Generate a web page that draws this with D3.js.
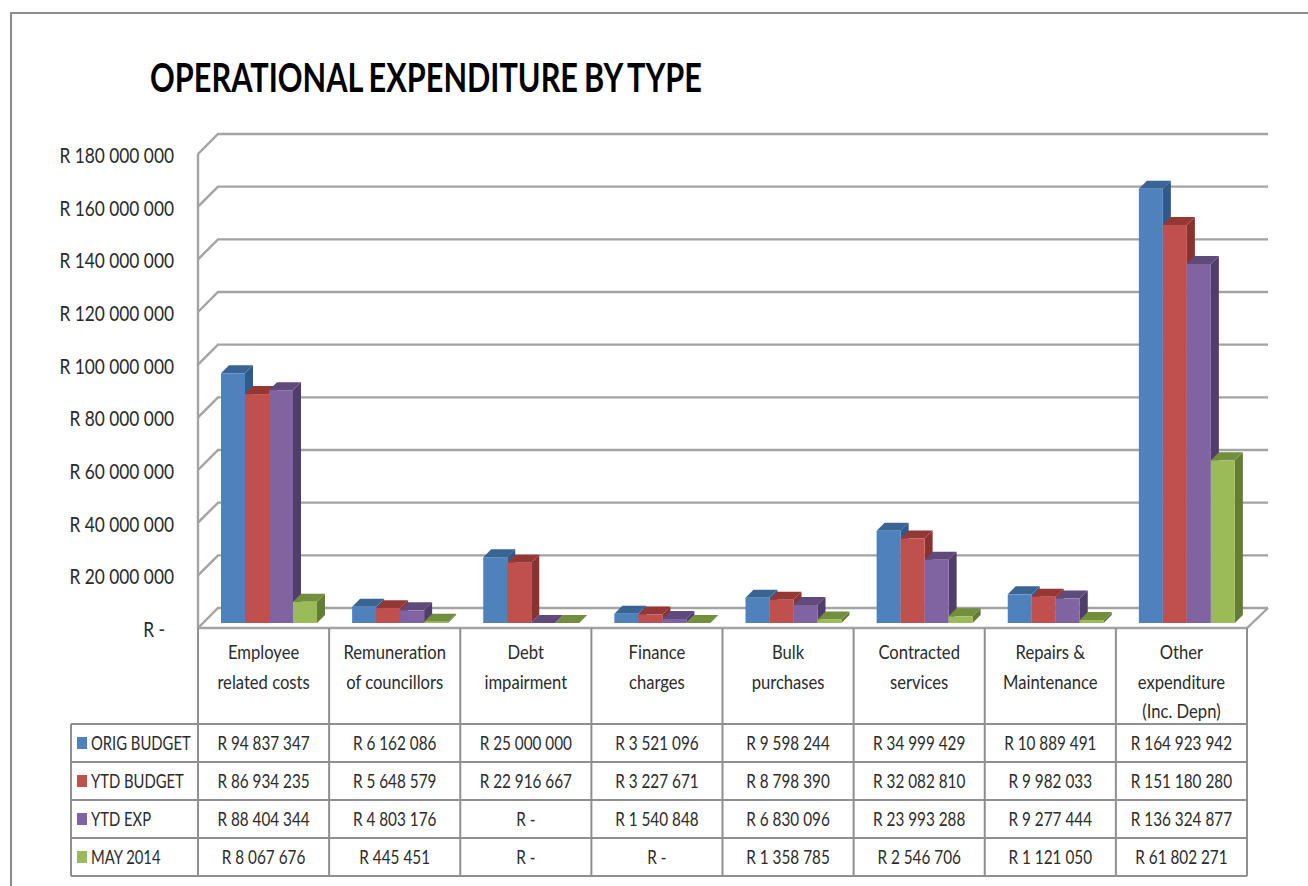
<!DOCTYPE html>
<html>
<head>
<meta charset="utf-8">
<script src="https://cdn.jsdelivr.net/npm/d3@7"></script>
<style>
    html, body {margin: 0; padding: 0; background: #fff;}
    svg {display: block;}
    text {font-family: Lato, "Liberation Sans", sans-serif; fill: #2b2b2b;}
    .chartTitle {font-weight: bold; fill: #000; word-spacing: -2px;}
    .line {stroke: #a3a3a3; stroke-width: 2.4; fill: none;}
    .tableLine {stroke: #8f8f8f; stroke-width: 2; fill: none;}
</style>
</head>
<body>
<div id="chart"></div>
<script>
const title = "OPERATIONAL EXPENDITURE BY TYPE";

const categories = [
    ["Employee", "related costs"],
    ["Remuneration", "of councillors"],
    ["Debt", "impairment"],
    ["Finance", "charges"],
    ["Bulk", "purchases"],
    ["Contracted", "services"],
    ["Repairs &", "Maintenance"],
    ["Other", "expenditure", "(Inc. Depn)"]
];

const seriesNames = ["ORIG BUDGET", "YTD BUDGET", "YTD EXP", "MAY 2014"];

const origBudget = [94837347, 6162086, 25000000, 3521096, 9598244, 34999429, 10889491, 164923942];
const ytdBudget = [86934235, 5648579, 22916667, 3227671, 8798390, 32082810, 9982033, 151180280];
const ytdExp = [88404344, 4803176, 0, 1540848, 6830096, 23993288, 9277444, 136324877];
const may2014 = [8067676, 445451, 0, 0, 1358785, 2546706, 1121050, 61802271];

const yTicks = [0, 20e6, 40e6, 60e6, 80e6, 100e6, 120e6, 140e6, 160e6, 180e6];

const seriesValues = [origBudget, ytdBudget, ytdExp, may2014];
const frontColors = ["#4f81bd", "#c0504d", "#8064a2", "#9bbb59"];
const sideColors = ["#2f5b8c", "#8a3230", "#4f3d6b", "#647d34"];
const topColors = ["#3a6494", "#953735", "#604a7b", "#728f3d"];

/**********************
***** BASIC SETUP *****
**********************/

const width = 1308;
const height = 886;

const plot = {left: 198, right: 1247, top: 154, floor: 628};
const wallDepth = 20;   // how far the back wall sits from the front edge
const barDepth = 8;     // depth of one bar
const barInset = 5;     // gap between the front edge of the floor and the bars
const rowLines = [724, 762, 800, 838, 876];
const tableLeft = 71;

// the original font is a lot narrower than anything installed, so squeeze the glyphs
function squeeze(factor) {
    return function() {
        this.setAttribute("textLength", this.getComputedTextLength() * factor);
        this.setAttribute("lengthAdjust", "spacingAndGlyphs");
    };
}

const svg = d3.select("#chart")
    .append("svg")
    .attr("width", width)
    .attr("height", height);

// frame around the slide
svg.append("path")
    .attr("d", `M11,${height} V13 H${width}`)
    .attr("fill", "none")
    .attr("stroke", "#8c8c8c")
    .attr("stroke-width", 2);

// chart title
svg.append("text")
    .attr("class", "chartTitle")
    .attr("x", 150)
    .attr("y", 92)
    .attr("font-size", 41)
    .attr("textLength", 552)
    .attr("lengthAdjust", "spacingAndGlyphs")
    .text(title);

/***********************
***** X & Y SCALES *****
***********************/

const xScale = d3.scaleBand()
    .domain(d3.range(categories.length))
    .range([plot.left, plot.right]);

const barScale = d3.scaleBand()
    .domain(d3.range(seriesNames.length))
    .range([23, 119]);

const yScale = d3.scaleLinear()
    .domain([0, 180e6])
    .range([plot.floor, plot.top]);

const spaced = d3.formatLocale({decimal: ".", thousands: " ", grouping: [3], currency: ["R ", ""]});
const rand = v => v === 0 ? "R -" : spaced.format("$,")(v);

/******************
***** Y AXIS ******
******************/

const yAxis = svg.append("g")
    .attr("transform", `translate(${plot.left}, 0)`)
    .call(d3.axisLeft(yScale)
        .tickValues(yTicks)
        .tickSize(0)
        .tickPadding(24)
        .tickFormat(rand));

yAxis.select(".domain").remove();

yAxis.selectAll("text")
    .attr("font-size", 21)
    .attr("dy", "0.4em")
    .attr("dx", d => d === 0 ? -9 : 0)
    .each(squeeze(0.825));

/**********************
***** WALLS, GRID *****
**********************/

const grid = svg.append("g");

grid.selectAll(".gridLine")
    .data(yTicks)
    .enter()
    .append("path")
    .attr("class", "line gridLine")
    .attr("d", d => `M${plot.left},${yScale(d)} l${wallDepth},${-wallDepth} H${plot.right + wallDepth + 1}`);

// left wall edge
grid.append("line")
    .attr("class", "line")
    .attr("x1", plot.left)
    .attr("x2", plot.left)
    .attr("y1", yScale(180e6))
    .attr("y2", yScale(0));

// floor front edge and right corner
grid.append("path")
    .attr("class", "line")
    .attr("d", `M${plot.left},${yScale(0)} H${plot.right} l${wallDepth + 1},${-wallDepth}`);

/***************
***** BARS *****
***************/

const bars = svg.append("g");

categories.forEach((cat, c) => {
    seriesValues.forEach((values, s) => {
        const x0 = xScale(c) + barScale(s);
        const w = barScale.bandwidth();
        const base = yScale(0) - barInset;
        const top = base - (yScale(0) - yScale(values[c]));
        const d = barDepth;
        const g = bars.append("g");

        if (base - top >= 1) {
            // side face
            g.append("polygon")
                .attr("fill", sideColors[s])
                .attr("points", [[x0 + w, top], [x0 + w + d, top - d], [x0 + w + d, base - d], [x0 + w, base]].join(" "));
        }
        // top face
        g.append("polygon")
            .attr("fill", topColors[s])
            .attr("points", [[x0, top], [x0 + d, top - d], [x0 + w + d, top - d], [x0 + w, top]].join(" "));
        // front face
        g.append("rect")
            .attr("x", x0)
            .attr("y", top)
            .attr("width", w)
            .attr("height", base - top)
            .attr("fill", frontColors[s]);
    });
});

/****************
***** TABLE *****
****************/

const table = svg.append("g");

// column lines
table.selectAll(".colLine")
    .data(d3.range(categories.length + 1))
    .enter()
    .append("line")
    .attr("class", "tableLine colLine")
    .attr("x1", d => plot.left + d * xScale.bandwidth())
    .attr("x2", d => plot.left + d * xScale.bandwidth())
    .attr("y1", plot.floor)
    .attr("y2", rowLines[rowLines.length - 1]);

// row lines
table.selectAll(".rowLine")
    .data(rowLines)
    .enter()
    .append("line")
    .attr("class", "tableLine rowLine")
    .attr("x1", tableLeft)
    .attr("x2", plot.right)
    .attr("y1", d => d)
    .attr("y2", d => d);

table.append("line")
    .attr("class", "tableLine")
    .attr("x1", tableLeft)
    .attr("x2", tableLeft)
    .attr("y1", rowLines[0])
    .attr("y2", rowLines[rowLines.length - 1]);

// category labels
categories.forEach((cat, c) => {
    table.selectAll(null)
        .data(cat)
        .enter()
        .append("text")
        .attr("x", xScale(c) + xScale.bandwidth() / 2)
        .attr("y", (d, i) => 659 + i * 29.5)
        .attr("text-anchor", "middle")
        .attr("font-size", 20)
        .text(d => d)
        .each(squeeze(0.83));
});

// legend keys and values
seriesNames.forEach((name, s) => {
    const mid = (rowLines[s] + rowLines[s + 1]) / 2;

    table.append("rect")
        .attr("x", 77)
        .attr("y", mid - 6)
        .attr("width", 10)
        .attr("height", 12)
        .attr("fill", frontColors[s]);

    table.append("text")
        .attr("x", 91)
        .attr("y", mid + 7)
        .attr("font-size", 20)
        .text(name)
        .each(squeeze(0.74));

    table.selectAll(null)
        .data(seriesValues[s])
        .enter()
        .append("text")
        .attr("x", (d, i) => xScale(i) + xScale.bandwidth() / 2)
        .attr("y", mid + 7)
        .attr("text-anchor", "middle")
        .attr("font-size", 20)
        .text(d => rand(d))
        .each(squeeze(0.765));
});
</script>
</body>
</html>
